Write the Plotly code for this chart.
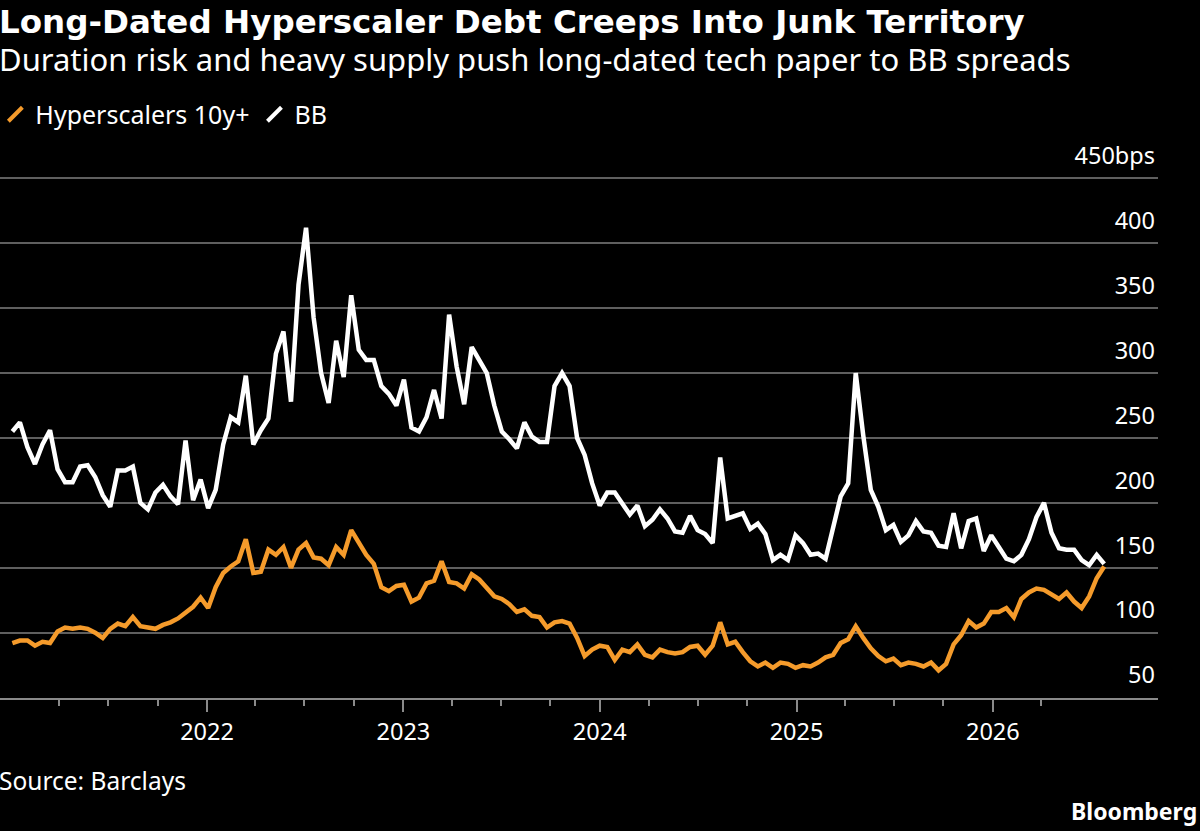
import pandas as pd
import plotly.graph_objects as go

# Biweekly sampling grid
dates = pd.date_range("2021-01-04", periods=146, freq="14D")

bb_spread = [255,262,243,230,245,256,226,216,216,228,
             229,220,206,197,225,225,228,200,195,208,
             214,205,199,248,202,218,196,210,245,266,
             262,298,245,256,265,315,332,278,368,412,
             343,300,277,325,297,360,318,310,310,290,
             284,275,295,258,255,266,287,265,345,305,
             276,320,310,300,275,255,249,242,262,251,
             247,247,290,300,290,250,237,215,198,208,
             208,200,191,198,182,187,195,188,178,177,
             190,179,176,169,235,188,190,192,180,184,
             176,156,160,156,175,169,160,161,157,180,
             205,215,300,252,210,197,179,183,170,175,
             186,178,177,167,166,192,165,186,188,163,
             175,166,157,155,160,172,189,200,177,165,
             164,164,156,152,160,153]

hyperscalers_10y = [92,94,94,90,93,92,101,104,103,104,
                    103,100,96,103,107,105,112,105,104,103,
                    106,108,111,116,120,127,119,135,146,151,
                    155,172,146,147,164,160,166,150,164,169,
                    158,157,152,166,160,179,170,160,153,135,
                    132,136,137,124,127,138,140,155,139,138,
                    134,145,141,134,128,126,122,116,118,113,
                    112,104,108,109,107,96,82,87,90,89,
                    79,87,85,91,83,81,87,85,84,85,
                    89,90,83,90,108,91,93,85,78,74,
                    77,73,77,76,73,75,74,77,81,83,
                    92,95,105,96,88,82,78,80,75,77,
                    76,74,77,71,76,91,98,109,104,107,
                    116,116,119,112,126,131,134,133,129,126,
                    131,124,119,128,142,151]

series_names = ["Hyperscalers 10y+", "BB"]
y_tick_vals = [50, 100, 150, 200, 250, 300, 350, 400, 450]
y_tick_text = ["50", "100", "150", "200", "250", "300", "350", "400", "450bps"]
x_year_ticks = ["2022-01-01", "2023-01-01", "2024-01-01", "2025-01-01", "2026-01-01"]
x_year_text = ["2022", "2023", "2024", "2025", "2026"]
quarter_ticks = [d for d in pd.date_range("2021-04-01", "2026-07-01", freq="QS")
                 if d.month != 1]

ORANGE = "#F59B2B"
WHITE = "#FFFFFF"
GRID = "#5f5f5f"
AXIS = "#8a8a8a"
FONT = "Noto Sans"

# plot area: x 0..1158 px, y value 50 at 698 px, 450 at 178 px (1.3 px / bp)
Y_BOTTOM = 49.7
Y_TOP = 505          # extra headroom so the "450bps" label stays inside
PLOT_TOP_PX = 178 - (Y_TOP - 450) * 1.3
PLOT_BOTTOM_PX = 698 + (50 - Y_BOTTOM) * 1.3

fig = go.Figure()
fig.add_trace(go.Scatter(x=dates, y=bb_spread, mode="lines",
                         line=dict(color=WHITE, width=4.5), showlegend=False, name="BB"))
fig.add_trace(go.Scatter(x=dates, y=hyperscalers_10y, mode="lines",
                         line=dict(color=ORANGE, width=4.5), showlegend=False,
                         name="Hyperscalers 10y+"))
for nm, col in zip(series_names, [ORANGE, WHITE]):
    fig.add_trace(go.Scatter(x=[None], y=[None], mode="markers", name=nm,
                             marker=dict(symbol="line-ne", size=14,
                                         line=dict(color=col, width=4))))

fig.update_layout(
    width=1200, height=831,
    paper_bgcolor="black", plot_bgcolor="black",
    margin=dict(l=0, r=42, t=PLOT_TOP_PX, b=831 - PLOT_BOTTOM_PX, autoexpand=False),
    font=dict(family=FONT, color="white", size=23),
    showlegend=True,
    legend=dict(orientation="h", x=-0.004, xanchor="left",
                y=(PLOT_BOTTOM_PX - 114) / (PLOT_BOTTOM_PX - PLOT_TOP_PX), yanchor="middle",
                font=dict(size=25, color="white"), bgcolor="rgba(0,0,0,0)",
                itemwidth=30, tracegroupgap=0),
    xaxis=dict(range=["2020-12-12", "2026-11-04"], tickmode="array",
               tickvals=x_year_ticks, ticktext=x_year_text,
               ticks="outside", ticklen=12, tickwidth=1.5, tickcolor=AXIS,
               showline=True, linecolor=AXIS, linewidth=1.5,
               showgrid=False, zeroline=False,
               tickfont=dict(size=23.5, color="white"),
               minor=dict(tickmode="array", tickvals=quarter_ticks, ticks="outside",
                          ticklen=6, tickwidth=1.5, tickcolor=AXIS, showgrid=False)),
    yaxis=dict(range=[Y_BOTTOM, Y_TOP], side="right", tickmode="array",
               tickvals=y_tick_vals, ticktext=y_tick_text,
               ticklabelposition="inside top", ticklabelshift=-6, ticks="",
               showgrid=True, gridcolor=GRID, gridwidth=1.5,
               zeroline=False, showline=False,
               tickfont=dict(size=23.5, color="white")),
)

def py(p):
    return (PLOT_BOTTOM_PX - p) / (PLOT_BOTTOM_PX - PLOT_TOP_PX)

fig.add_annotation(text="<b>Long-Dated Hyperscaler Debt Creeps Into Junk Territory</b>",
                   xref="paper", yref="paper", x=-0.003, y=py(21), xanchor="left", yanchor="middle",
                   showarrow=False, font=dict(size=32.5, color="white", family="DejaVu Sans"))
fig.add_annotation(text="Duration risk and heavy supply push long-dated tech paper to BB spreads",
                   xref="paper", yref="paper", x=-0.003, y=py(58), xanchor="left", yanchor="middle",
                   showarrow=False, font=dict(size=31, color="white", family=FONT))
fig.add_annotation(text="Source: Barclays",
                   xref="paper", yref="paper", x=-0.003, y=py(781), xanchor="left", yanchor="middle",
                   showarrow=False, font=dict(size=24.5, color="white", family=FONT))
fig.add_annotation(text="<b>Bloomberg</b>",
                   xref="paper", yref="paper", x=1199 / 1158.0, y=py(812), xanchor="right",
                   yanchor="middle", showarrow=False,
                   font=dict(size=23, color="white", family=FONT))

fig.write_html("out.html", config={"displayModeBar": False},
               post_script="document.body.style.margin='0';document.body.style.overflow='hidden';")
